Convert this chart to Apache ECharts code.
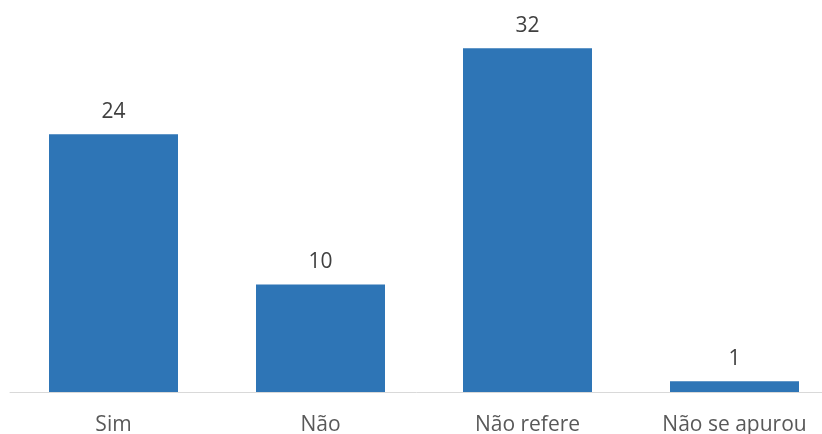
<!DOCTYPE html>
<html>
<head>
<meta charset="utf-8">
<script src="https://cdn.jsdelivr.net/npm/echarts@6/dist/echarts.min.js"></script>
<style>
  html, body { margin: 0; padding: 0; background: #fff; }
  #chart { width: 822px; height: 434px; }
</style>
</head>
<body>
<div id="chart"></div>
<script>
// dados
const categories = ['Sim', 'Não', 'Não refere', 'Não se apurou']
const values = [24, 10, 32, 1]

const chart = echarts.init(document.getElementById('chart'), null, { renderer: 'canvas' })

const option = {
  animation: false,
  textStyle: { fontFamily: 'Open Sans' },
  grid: {
    left: 10,
    right: -16,
    top: 16,
    bottom: 42,
    containLabel: false,
    outerBoundsMode: 'none',
  },
  xAxis: {
    type: 'category',
    data: categories,
    axisLine: { show: true, lineStyle: { color: '#D9D9D9', width: 1 } },
    axisTick: { show: false },
    axisLabel: { color: '#595959', fontSize: 21, margin: 23, interval: 0 },
  },
  yAxis: {
    type: 'value',
    min: 0,
    max: 35,
    show: false,
    splitLine: { show: false },
  },
  series: [
    {
      type: 'bar',
      data: values,
      barWidth: 129,
      itemStyle: { color: '#2E75B6' },
      label: {
        show: true,
        position: 'top',
        distance: 12,
        color: '#404040',
        fontSize: 21,
      },
    },
  ],
}
chart.setOption(option)
</script>
</body>
</html>
